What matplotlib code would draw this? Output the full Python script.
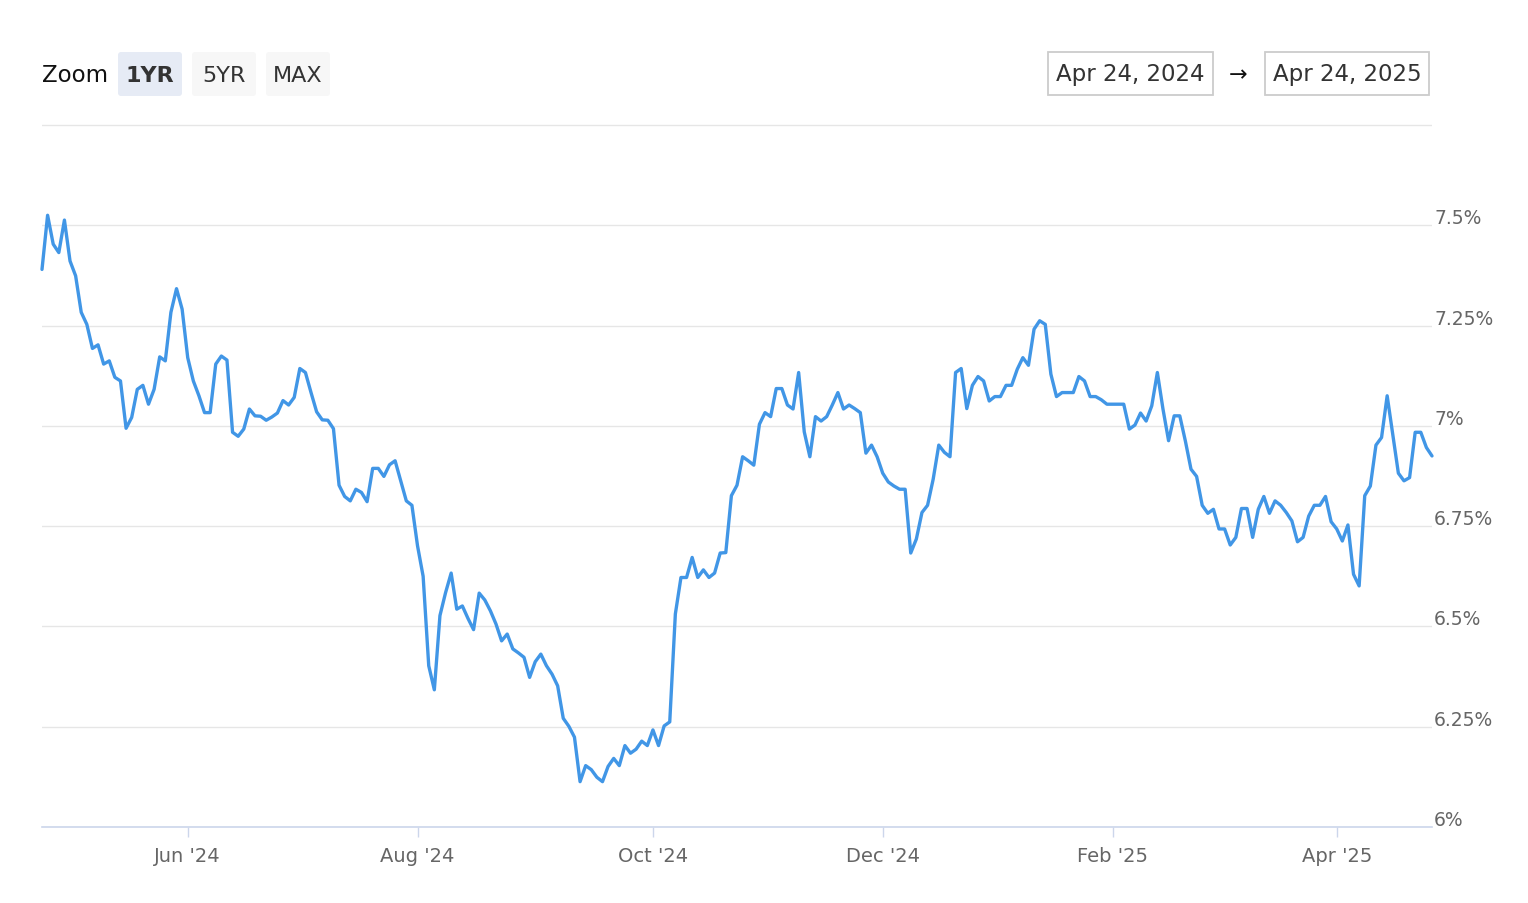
import matplotlib
matplotlib.use('Agg')
import matplotlib.pyplot as plt
import matplotlib.transforms as mtransforms
from matplotlib.patches import FancyBboxPatch, Rectangle
import numpy as np
import pandas as pd

W, H = 1528, 904

# trading days shown on the ordinal axis (bond market closures removed)
start_date = '2024-04-25'
end_date = '2025-04-24'
holidays = ['2024-05-27', '2024-06-19', '2024-07-04', '2024-09-02', '2024-10-14',
            '2024-11-11', '2024-11-28', '2024-12-25', '2025-01-01', '2025-01-09',
            '2025-01-20', '2025-02-17']

# daily rate, %
rates = [
    7.390, 7.525, 7.453, 7.432, 7.513, 7.411, 7.374, 7.283, 7.253, 7.193,
    7.202, 7.154, 7.162, 7.121, 7.112, 6.994, 7.021, 7.091, 7.101, 7.054,
    7.091, 7.172, 7.162, 7.283, 7.342, 7.291, 7.170, 7.112, 7.075, 7.033,
    7.033, 7.154, 7.174, 7.164, 6.984, 6.974, 6.992, 7.042, 7.025, 7.024,
    7.014, 7.022, 7.032, 7.063, 7.052, 7.071, 7.143, 7.133, 7.083, 7.035,
    7.015, 7.014, 6.993, 6.852, 6.824, 6.813, 6.842, 6.834, 6.811, 6.894,
    6.894, 6.874, 6.903, 6.913, 6.863, 6.813, 6.802, 6.701, 6.625, 6.402,
    6.342, 6.527, 6.584, 6.633, 6.543, 6.551, 6.520, 6.492, 6.583, 6.566,
    6.539, 6.506, 6.464, 6.481, 6.444, 6.434, 6.423, 6.373, 6.412, 6.431,
    6.402, 6.381, 6.352, 6.271, 6.251, 6.224, 6.113, 6.153, 6.143, 6.124,
    6.113, 6.151, 6.171, 6.153, 6.203, 6.184, 6.194, 6.214, 6.203, 6.242,
    6.203, 6.252, 6.262, 6.531, 6.622, 6.622, 6.672, 6.622, 6.641, 6.622,
    6.633, 6.683, 6.684, 6.826, 6.852, 6.923, 6.913, 6.902, 7.004, 7.033,
    7.023, 7.093, 7.093, 7.052, 7.042, 7.133, 6.985, 6.923, 7.023, 7.012,
    7.023, 7.052, 7.083, 7.042, 7.052, 7.043, 7.033, 6.932, 6.952, 6.923,
    6.882, 6.860, 6.850, 6.842, 6.842, 6.683, 6.718, 6.784, 6.802, 6.867,
    6.952, 6.934, 6.923, 7.133, 7.143, 7.043, 7.101, 7.123, 7.112, 7.062,
    7.073, 7.073, 7.101, 7.101, 7.141, 7.170, 7.151, 7.241, 7.262, 7.253,
    7.129, 7.073, 7.083, 7.083, 7.083, 7.123, 7.112, 7.073, 7.073, 7.065,
    7.054, 7.054, 7.054, 7.054, 6.992, 7.002, 7.032, 7.012, 7.050, 7.133,
    7.042, 6.963, 7.025, 7.025, 6.962, 6.892, 6.874, 6.802, 6.782, 6.792,
    6.743, 6.743, 6.703, 6.722, 6.794, 6.794, 6.722, 6.792, 6.824, 6.782,
    6.813, 6.802, 6.784, 6.763, 6.711, 6.722, 6.775, 6.802, 6.802, 6.824,
    6.761, 6.743, 6.713, 6.753, 6.630, 6.601, 6.826, 6.850, 6.952, 6.971,
    7.075, 6.979, 6.882, 6.863, 6.871, 6.984, 6.984, 6.946, 6.925,
]

tick_months = ['2024-06-01', '2024-08-01', '2024-10-01', '2024-12-01', '2025-02-01', '2025-04-01']
tick_labels = ["Jun '24", "Aug '24", "Oct '24", "Dec '24", "Feb '25", "Apr '25"]
y_ticks = [6, 6.25, 6.5, 6.75, 7, 7.25, 7.5, 7.75]
y_labels = ['6%', '6.25%', '6.5%', '6.75%', '7%', '7.25%', '7.5%', '']

zoom_buttons = ['1YR', '5YR', 'MAX']
range_from = 'Apr 24, 2024'
range_to = 'Apr 24, 2025'

dates = pd.bdate_range(start_date, end_date, freq='C', holidays=holidays)
n = min(len(dates), len(rates))
x = np.arange(n)
tick_pos = [int(dates.searchsorted(pd.Timestamp(m))) for m in tick_months]

fig = plt.figure(figsize=(W / 100, H / 100), dpi=100)
ax = fig.add_axes([42 / W, 1 - 828 / H, 1390 / W, (828 - 124) / H])

ax.plot(x, rates[:n], color='#4196e6', lw=2.4, solid_joinstyle='round',
        solid_capstyle='round', zorder=3, clip_on=False)

ax.set_xlim(0, n - 1)
ax.set_ylim(6, 7.755)
ax.set_yticks(y_ticks)
ax.yaxis.grid(True, color='#e6e6e6', lw=1)
ax.tick_params(axis='y', length=0, labelleft=False, labelright=False)
ax.set_axisbelow(True)

lab_tr = mtransforms.blended_transform_factory(ax.transAxes, ax.transData) + \
    mtransforms.ScaledTranslation(2 / 100, 2 / 100, fig.dpi_scale_trans)
for v, lab in zip(y_ticks, y_labels):
    ax.text(1.0, v, lab, transform=lab_tr, ha='left', va='baseline',
            fontsize=13.5, color='#666666')

ax.set_xticks(tick_pos, tick_labels)
ax.tick_params(axis='x', length=7.5, width=1, color='#ccd6eb',
               labelsize=14, labelcolor='#666666', pad=6)

for side in ['top', 'left', 'right']:
    ax.spines[side].set_visible(False)
ax.spines['bottom'].set_color('#ccd6eb')
ax.spines['bottom'].set_linewidth(1.2)

# range selector row, drawn in pixel coordinates
pix = mtransforms.IdentityTransform()
fig.text(42 / W, 1 - 76 / H, 'Zoom', fontsize=16.5, color='#111111', va='center', ha='left')
for i, name in enumerate(zoom_buttons):
    cx = 150 + 74 * i
    face = '#e6ebf5' if i == 0 else '#f7f7f7'
    fig.patches.append(FancyBboxPatch((cx - 32 + 2, H - 97 + 2), 60, 40,
                                      boxstyle='round,pad=2,rounding_size=3',
                                      fc=face, ec='none', transform=pix))
    fig.text(cx / W, 1 - 76 / H, name, fontsize=16, color='#333333', va='center',
             ha='center', fontweight='bold' if i == 0 else 'normal')

for (x0, x1), txt in zip([(1048, 1213), (1265, 1429)], [range_from, range_to]):
    fig.patches.append(Rectangle((x0, H - 96), x1 - x0, 43, fc='white',
                                 ec='#cccccc', lw=1.3, transform=pix))
    fig.text((x0 + x1) / 2 / W, 1 - 75 / H, txt, fontsize=16.5, color='#333333',
             va='center', ha='center')
fig.text(1238 / W, 1 - 75 / H, '\u2192', fontsize=16, color='#111111', va='center', ha='center')

fig.savefig('out.png', dpi=100, facecolor='white')
